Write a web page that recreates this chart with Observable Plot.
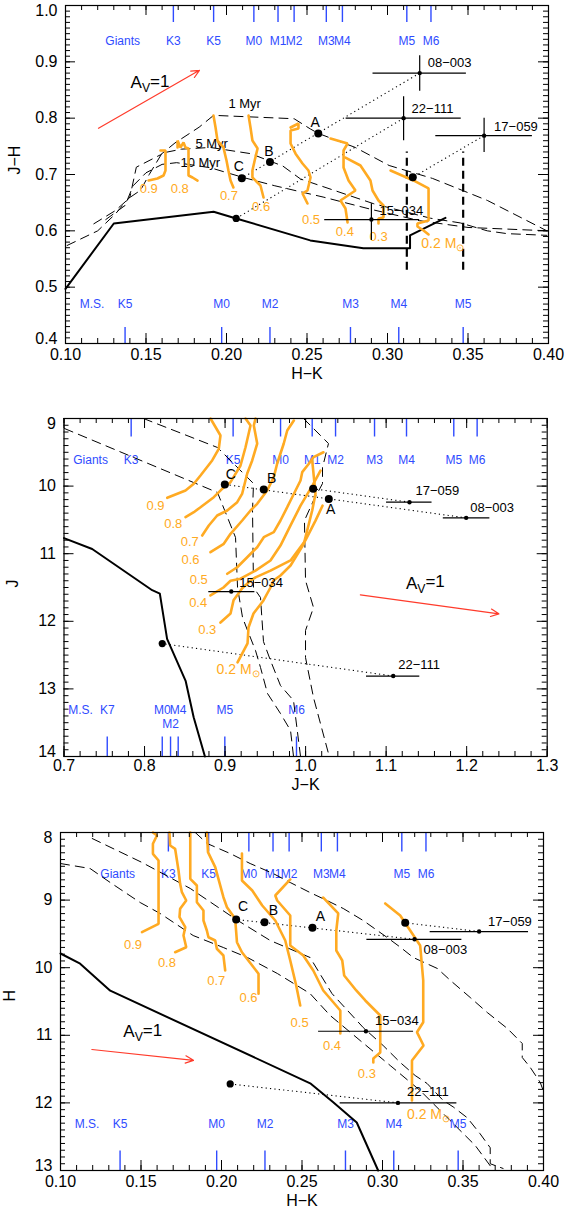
<!DOCTYPE html>
<html><head><meta charset="utf-8">
<script src="https://cdn.jsdelivr.net/npm/d3@7"></script>
<script src="https://cdn.jsdelivr.net/npm/@observablehq/plot@0.6"></script>
<style>
html,body{margin:0;padding:0;background:#fff;}
body{width:565px;height:1214px;position:relative;overflow:hidden;font-family:"Liberation Sans",Arial,Helvetica,sans-serif;}
.pan{position:absolute;left:0;}
</style></head><body>
<div id="p1" class="pan" style="top:0px"></div>
<div id="p2" class="pan" style="top:400px"></div>
<div id="p3" class="pan" style="top:800px"></div>
<script>
// ---------------- DATA ----------------
const hkGiantSpT = ["K3","K5","M0","M1","M2","M3","M4","M5","M6"];
const hkGiantX   = [0.167,0.192,0.217,0.232,0.242,0.262,0.272,0.312,0.327];
const hkDwarfSpT = ["K5","M0","M2","M3","M4","M5"];
const hkDwarfX   = [0.137,0.197,0.227,0.277,0.307,0.347];
const hkGiantsLabelX = 0.1355, hkMSLabelX = 0.1165;
const jkGiantSpT = ["K3","K5","M0","M1","M2","M3","M4","M5","M6"];
const jkGiantX   = [0.7834,0.910,0.9689,1.0082,1.0372,1.0856,1.1253,1.184,1.213];
const jkDwarfSpT = ["K7","M0","M2","M4","M5","M6"];
const jkDwarfX   = [0.7537,0.822,0.8323,0.8418,0.8997,0.9887];
const jkGiantsLabelX = 0.733, jkMSLabelX = 0.7205;

const p1XTicks = [0.10,0.15,0.20,0.25,0.30,0.35,0.40];
const p1YTicks = [0.4,0.5,0.6,0.7,0.8,0.9,1.0];
const p2XTicks = [0.7,0.8,0.9,1.0,1.1,1.2,1.3];
const p2YTicks = [9,10,11,12,13,14];
const p3XTicks = [0.10,0.15,0.20,0.25,0.30,0.35,0.40];
const p3YTicks = [8,9,10,11,12,13];

// ---- Panel 1: J-H vs H-K ----
const p1MS = [[0.100,0.497],[0.130,0.613],[0.192,0.634],[0.206,0.622],[0.252,0.583],[0.285,0.569],[0.314,0.569],[0.314,0.592],[0.336,0.623]];
const p1Iso1 = [[0.101,0.574],[0.120,0.600],[0.131,0.630],[0.140,0.660],[0.144,0.713],[0.159,0.735],[0.168,0.756],[0.183,0.784],[0.192,0.805],[0.242,0.799],[0.252,0.781],[0.257,0.773],[0.280,0.748],[0.301,0.716],[0.328,0.693],[0.362,0.654],[0.399,0.600]];
const p1Iso5 = [[0.1176,0.6125],[0.131,0.636],[0.1404,0.660],[0.1466,0.672],[0.152,0.700],[0.160,0.738],[0.172,0.745],[0.190,0.748],[0.215,0.737],[0.235,0.715],[0.246,0.692],[0.2915,0.648],[0.3267,0.6224],[0.3453,0.614],[0.362,0.600],[0.3743,0.595],[0.399,0.592]];
const p1Iso10 = [[0.125,0.620],[0.137,0.645],[0.142,0.680],[0.150,0.703],[0.160,0.718],[0.169,0.721],[0.190,0.712],[0.210,0.695],[0.230,0.680],[0.260,0.660],[0.290,0.638],[0.320,0.618],[0.350,0.606],[0.400,0.600]];
const p1IsoLabels = [["1 Myr",0.2012,0.826],["5 Myr",0.1807,0.755],["10 Myr",0.1714,0.7213]];
const p1Tracks = [
  ["0.9",[[0.159,0.7426],[0.1621,0.7426],[0.1621,0.7071],[0.1609,0.6982],[0.1571,0.6929],[0.1516,0.6893]]],
  ["0.8",[[0.1696,0.748],[0.1696,0.7603],[0.1714,0.748],[0.1733,0.757],[0.1745,0.748],[0.1764,0.746],[0.1764,0.72],[0.1764,0.6982],[0.1789,0.6947],[0.182,0.6893]]],
  ["0.7",[[0.1919,0.8047],[0.1932,0.7834],[0.1944,0.7603],[0.1981,0.748],[0.2,0.7248],[0.2012,0.7071],[0.2025,0.6893],[0.2043,0.677]]],
  ["0.6",[[0.2137,0.8047],[0.2149,0.7834],[0.2161,0.7603],[0.2193,0.7462],[0.2175,0.7248],[0.2161,0.7071],[0.2161,0.6947],[0.2211,0.6805],[0.223,0.6592]]],
  ["0.5",[[0.2398,0.7834],[0.2447,0.7905],[0.2447,0.7816],[0.2398,0.778],[0.2398,0.755],[0.2429,0.737],[0.2472,0.7195],[0.2509,0.7071],[0.2522,0.6947],[0.2503,0.6716],[0.2472,0.6663],[0.2503,0.6485]]],
  ["0.4",[[0.2646,0.7639],[0.2752,0.755],[0.2727,0.7426],[0.2727,0.7124],[0.2758,0.6893],[0.2801,0.6716],[0.2708,0.6538],[0.2739,0.6396],[0.2752,0.6147]]],
  ["0.3",[[0.2739,0.73],[0.2832,0.716],[0.2894,0.6893],[0.2907,0.6716],[0.2944,0.6538],[0.2975,0.645],[0.2975,0.6236],[0.2944,0.6219],[0.2944,0.613]]],
  ["0.2",[[0.3019,0.7071],[0.3161,0.6894],[0.3255,0.6752],[0.3255,0.6183],[0.3186,0.613],[0.3186,0.6077],[0.3224,0.6006],[0.3255,0.5935]]]
];
const p1MassLabels = [["0.9",0.1517,0.6745],["0.8",0.171,0.674],["0.7",0.2015,0.663],["0.6",0.2215,0.642],["0.5",0.2525,0.620],["0.4",0.2735,0.598],["0.3",0.2945,0.589]];
const p1SunLabel = ["0.2 M_⊙",0.321,0.577];
const p1Stars = [
  {id:"08−003", x:0.320, y:0.880, xlo:0.291, xhi:0.349, ylo:0.848, yhi:0.911},
  {id:"22−111", x:0.310, y:0.800, xlo:0.2743, xhi:0.3458, ylo:0.760, yhi:0.838},
  {id:"17−059", x:0.360, y:0.769, xlo:0.330, xhi:0.390, ylo:0.739, yhi:0.800},
  {id:"15−034", x:0.290, y:0.620, xlo:0.261, xhi:0.320, ylo:0.583, yhi:0.648}
];
const p1Dots = [{id:"A",x:0.257,y:0.773},{id:"B",x:0.227,y:0.722},{id:"C",x:0.2095,y:0.6934},{id:"",x:0.3157,y:0.695}];
const p1MSDot = [{x:0.206,y:0.622}];
const p1Dered = [{x1:0.320,y1:0.880,x2:0.2095,y2:0.6934},{x1:0.310,y1:0.800,x2:0.206,y2:0.622},{x1:0.360,y1:0.769,x2:0.3157,y2:0.695}];
const p1MLimits = [{x:0.312,y1:0.53,y2:0.74},{x:0.347,y1:0.53,y2:0.74}];
const p1Av = [{x1:0.1205,y1:0.782,x2:0.1832,y2:0.885}];
const p1AvLabel = ["A_V=1",0.1404,0.863];

// ---- Panel 2: J vs J-K ----
const p2MS = [[0.70,10.77],[0.735,10.93],[0.8095,11.54],[0.819,11.59],[0.828,12.26],[0.851,12.88],[0.861,13.42],[0.875,14.0]];
const p2IsoA = [[0.9974,9.0],[1.0284,9.37],[1.021,9.725],[1.021,9.962],[1.0098,10.213],[0.9986,10.509],[0.9999,11.396],[1.0098,11.796],[0.9999,12.136],[0.9999,12.536],[1.0098,13.127],[1.0284,13.956],[1.0322,14.0]];
const p2IsoB = [[0.7987,9.0],[0.8906,9.429],[0.9353,9.962],[0.9341,10.361],[0.9353,11.5],[0.944,11.648],[0.9477,12.3],[0.9564,12.58],[0.9688,12.95],[0.985,13.172],[0.9937,14.0]];
const p2IsoC = [[0.7006,9.148],[0.8906,10.095],[0.913,10.76],[0.9155,11.5],[0.9217,11.944],[0.9279,12.136],[0.9378,12.432],[0.944,12.683],[0.9527,13.068],[0.9688,13.364],[0.9813,13.615],[0.985,14.0]];
const p2Tracks = [
  ["0.9",[[0.8819,9.0],[0.8943,9.251],[0.8922,9.448],[0.884,9.621],[0.8695,9.843],[0.8612,9.966],[0.8509,10.065],[0.8282,10.173]]],
  ["0.8",[[0.9254,9.0],[0.9316,9.104],[0.9254,9.425],[0.9192,9.695],[0.9068,9.942],[0.8964,10.04],[0.886,10.164],[0.8695,10.312],[0.8612,10.386],[0.8509,10.46]]],
  ["0.7",[[0.9378,9.0],[0.9357,9.104],[0.9399,9.37],[0.9337,9.621],[0.9275,9.814],[0.9213,10.11],[0.9151,10.238],[0.9027,10.361],[0.8902,10.435],[0.8798,10.583],[0.8716,10.731]]],
  ["0.6",[[0.9854,9.03],[0.9772,9.178],[0.9729,9.37],[0.9647,9.666],[0.9605,9.868],[0.9523,10.065],[0.9399,10.262],[0.9316,10.361],[0.9213,10.509],[0.9068,10.706],[0.8984,10.854],[0.8819,10.978]]],
  ["0.5",[[1.0222,9.499],[1.0098,9.572],[1.004,9.67],[0.9958,9.794],[0.9937,9.917],[0.9875,10.065],[0.9813,10.213],[0.9772,10.312],[0.9688,10.509],[0.9605,10.682],[0.9481,10.756],[0.9399,10.904],[0.9275,11.052],[0.9151,11.2],[0.9027,11.297]]],
  ["0.4",[[1.0185,9.77],[1.0086,9.99],[0.9937,10.29],[0.9813,10.58],[0.9688,10.88],[0.9564,11.1],[0.9378,11.25],[0.9192,11.37],[0.9068,11.4],[0.898,11.5],[0.8819,11.618]]],
  ["0.3",[[1.021,10.29],[1.0123,10.51],[0.9999,10.8],[0.9813,11.1],[0.9564,11.25],[0.9378,11.35],[0.9316,11.4],[0.9213,11.51],[0.9105,11.69],[0.9068,11.885],[0.8943,12.018]]],
  ["0.2",[[1.0082,9.621],[1.0123,10.114],[1.0082,10.361],[0.9978,10.854],[0.9813,11.175],[0.9688,11.322],[0.9601,11.396],[0.9564,11.5],[0.9477,11.692],[0.9353,11.885],[0.9291,12.092],[0.9279,12.328],[0.9155,12.609]]]
];
const p2MassLabels = [["0.9",0.8136,10.287],["0.8",0.8356,10.558],["0.7",0.8562,10.82],["0.6",0.857,11.09],["0.5",0.8674,11.38],["0.4",0.8666,11.73],["0.3",0.8778,12.13]];
const p2SunLabel = ["0.2 M_⊙",0.8894,12.72];
const p2Stars = [
  {id:"17−059", x:1.129, y:10.238, xlo:1.1005, xhi:1.157},
  {id:"08−003", x:1.1994, y:10.47, xlo:1.171, xhi:1.2288},
  {id:"15−034", x:0.9077, y:11.56, xlo:0.8798, xhi:0.937},
  {id:"22−111", x:1.1088, y:12.81, xlo:1.0756, xhi:1.1418}
];
const p2Dots = [{id:"C",x:0.8997,y:9.976},{id:"B",x:0.948,y:10.05},{id:"A",x:1.0288,y:10.19},{id:"",x:1.0094,y:10.04}];
const p2MSDot = [{x:0.822,y:12.33}];
const p2Dered = [{x1:1.1994,y1:10.47,x2:0.8997,y2:9.976},{x1:1.129,y1:10.238,x2:1.0094,y2:10.04},{x1:1.1088,y1:12.81,x2:0.822,y2:12.33}];
const p2Av = [{x1:1.068,y1:11.61,x2:1.24,y2:11.89}];
const p2AvLabel = ["A_V=1",1.1487,11.44];

// ---- Panel 3: H vs H-K ----
const p3MS = [[0.1,9.79],[0.1122,9.94],[0.1309,10.34],[0.2551,11.71],[0.2694,11.99],[0.284,12.29],[0.2973,13.0]];
const p3Iso1 = [[0.1837,8.0],[0.1911,8.163],[0.2054,8.311],[0.2178,8.459],[0.2321,8.607],[0.2427,8.74],[0.255,8.888],[0.2655,9.006],[0.2756,9.124],[0.288,9.302],[0.3029,9.553],[0.3113,9.701],[0.3191,9.849],[0.3341,10.012],[0.3422,10.189],[0.3545,10.441],[0.3651,10.663],[0.3776,10.9],[0.3868,11.121],[0.3868,11.328],[0.3918,11.476],[0.398,11.698],[0.3998,11.817]];
const p3Iso2 = [[0.1197,8.089],[0.1507,8.444],[0.1806,8.828],[0.2091,9.287],[0.2303,9.598],[0.255,9.849],[0.2686,10.382],[0.288,10.885],[0.3004,11.151],[0.311,11.402],[0.3203,11.595],[0.3277,11.713],[0.3377,11.964],[0.3439,12.059],[0.3526,12.219],[0.3606,12.456],[0.3669,12.663],[0.3669,12.9],[0.3749,12.97]];
const p3Iso3 = [[0.1,8.459],[0.1184,8.533],[0.1309,8.74],[0.1495,9.036],[0.1619,9.198],[0.1824,9.524],[0.2011,9.701],[0.2161,9.849],[0.2347,10.086],[0.255,10.382],[0.2675,10.707],[0.2861,11.077],[0.3048,11.447],[0.3234,11.817],[0.342,12.26],[0.3576,12.63],[0.3669,12.93]];
const p3Tracks = [
  ["0.9",[[0.1574,8.0],[0.1599,8.044],[0.1574,8.167],[0.1574,8.315],[0.1609,8.414],[0.1609,9.351],[0.1506,9.475]]],
  ["0.8",[[0.1677,8.0],[0.1681,8.192],[0.1712,8.241],[0.1733,8.562],[0.1743,8.759],[0.1754,8.883],[0.1781,9.006],[0.1743,9.129],[0.1739,9.253],[0.1775,9.401],[0.1764,9.524],[0.1781,9.697],[0.1712,9.771]]],
  ["0.7",[[0.1806,8.0],[0.1806,8.685],[0.1847,8.784],[0.1847,9.031],[0.1888,9.154],[0.1888,9.302],[0.1909,9.45],[0.1919,9.549],[0.1961,9.598],[0.1971,9.72],[0.2012,9.82],[0.2023,10.041]]],
  ["0.6",[[0.1909,8.0],[0.1916,8.291],[0.1961,8.513],[0.2012,8.957],[0.2034,9.105],[0.2085,9.277],[0.2096,9.623],[0.2127,9.771],[0.2199,9.993],[0.223,10.09],[0.223,10.386]]],
  ["0.5",[[0.2127,8.311],[0.2127,8.71],[0.2191,8.858],[0.2253,9.08],[0.2334,9.302],[0.2396,9.598],[0.2427,9.893],[0.2464,10.263],[0.2489,10.559]]],
  ["0.4",[[0.2427,8.695],[0.2334,8.932],[0.2346,9.006],[0.2427,9.228],[0.2427,9.672],[0.2508,9.82],[0.257,10.041],[0.2632,10.337],[0.2738,10.633],[0.2738,10.973]]],
  ["0.3",[[0.2632,8.962],[0.2725,9.198],[0.2713,9.45],[0.2713,9.746],[0.275,9.893],[0.2762,10.115],[0.2837,10.337],[0.2893,10.485],[0.2986,10.707],[0.2986,11.254],[0.2943,11.343],[0.2943,11.402]]],
  ["0.2",[[0.3017,9.05],[0.311,9.228],[0.3172,9.45],[0.3234,9.672],[0.3253,10.189],[0.3253,10.806],[0.3214,10.954],[0.3255,11.151],[0.3183,11.373],[0.3183,11.964]]]
];
const p3MassLabels = [["0.9",0.145,9.657],["0.8",0.1661,9.93],["0.7",0.1967,10.2],["0.6",0.2168,10.45],["0.5",0.2485,10.81],["0.4",0.2686,11.15],["0.3",0.2903,11.57]];
const p3SunLabel = ["0.2 M_⊙",0.3152,12.17];
const p3Stars = [
  {id:"17−059", x:0.36, y:9.465, xlo:0.3296, xhi:0.3907},
  {id:"08−003", x:0.3199, y:9.58, xlo:0.2903, xhi:0.3493},
  {id:"15−034", x:0.2897, y:10.94, xlo:0.2603, xhi:0.3193},
  {id:"22−111", x:0.3096, y:12.0, xlo:0.2737, xhi:0.3462}
];
const p3Dots = [{id:"A",x:0.2565,y:9.41},{id:"B",x:0.2267,y:9.327},{id:"C",x:0.2091,y:9.287},{id:"",x:0.3141,y:9.336}];
const p3MSDot = [{x:0.2054,y:11.72}];
const p3Dered = [{x1:0.3199,y1:9.58,x2:0.2091,y2:9.287},{x1:0.36,y1:9.465,x2:0.3141,y2:9.336},{x1:0.3096,y1:12.0,x2:0.2054,y2:11.72}];
const p3Av = [{x1:0.1195,y1:11.21,x2:0.1826,y2:11.37}];
const p3AvLabel = ["A_V=1",0.139,10.95];

// ---------------- STYLE / LAYOUT ----------------
const FONT = "'Liberation Sans', Arial, Helvetica, sans-serif";
const ORANGE = "#ffaa22", BLUE = "#2f4bff", RED = "#ff3b2b";
const DASH = "9,6";

function flatten(series) {
  return series.flatMap(([name, pts]) => pts.map(p => ({name, x: p[0], y: p[1]})));
}
function isoData(list) {
  return list.flatMap((pts, k) => pts.map(p => ({k, x: p[0], y: p[1]})));
}

function specMarks(topNames, topX, botNames, botX, giantsX, msX, L) {
  const top = topNames.map((s, i) => ({s, x: topX[i]}));
  const bot = botNames.map((s, i) => ({s, x: botX[i]}));
  const low = L.lowRow || [];
  const botRow1 = bot.filter(d => !low.includes(d.s));
  const botRow2 = bot.filter(d => low.includes(d.s));
  return [
    Plot.tickX(top, {x: "x", stroke: BLUE, strokeWidth: 1.4, insetBottom: L.ih - L.topTick}),
    Plot.tickX(bot, {x: "x", stroke: BLUE, strokeWidth: 1.4, insetTop: L.ih - L.botTick}),
    Plot.text(top, {x: "x", text: "s", frameAnchor: "top", dy: L.topLab, fill: BLUE, fontSize: 12}),
    Plot.text([{s: "Giants", x: giantsX}], {x: "x", text: "s", frameAnchor: "top", dy: L.topLab, fill: BLUE, fontSize: 12}),
    Plot.text(botRow1, {x: "x", text: "s", frameAnchor: "bottom", dy: -L.botLab, fill: BLUE, fontSize: 12}),
    Plot.text(botRow2, {x: "x", text: "s", frameAnchor: "bottom", dy: -L.botLab2, fill: BLUE, fontSize: 12}),
    Plot.text([{s: "M.S.", x: msX}], {x: "x", text: "s", frameAnchor: "bottom", dy: -L.botLab, fill: BLUE, fontSize: 12})
  ];
}

function commonData(P, lay) {
  const m = [];
  m.push(Plot.line(isoData(P.isos), {x: "x", y: "y", z: "k", stroke: "black", strokeWidth: 1, strokeDasharray: DASH}));
  m.push(Plot.line(P.ms, {x: d => d[0], y: d => d[1], stroke: "black", strokeWidth: 2}));
  m.push(Plot.link(P.dered, {x1: "x1", y1: "y1", x2: "x2", y2: "y2", stroke: "black", strokeWidth: 1.1, strokeDasharray: "1.2,3.2"}));
  m.push(Plot.line(flatten(P.tracks), {x: "x", y: "y", z: "name", stroke: ORANGE, strokeWidth: 2.6, strokeLinejoin: "miter"}));
  m.push(Plot.text(P.massLabels, {x: d => d[1], y: d => d[2], text: d => d[0], fill: ORANGE, fontSize: 13}));
  m.push(Plot.text([P.sunLabel], {x: d => d[1], y: d => d[2], text: d => d[0], fill: ORANGE, fontSize: 14, textAnchor: "start"}));
  m.push(Plot.ruleY(P.stars, {y: "y", x1: "xlo", x2: "xhi", stroke: "black", strokeWidth: 1.2}));
  if (P.stars[0].ylo != null) m.push(Plot.ruleX(P.stars, {x: "x", y1: "ylo", y2: "yhi", stroke: "black", strokeWidth: 1.2}));
  m.push(Plot.dot(P.stars, {x: "x", y: "y", r: 2.2, fill: "black"}));
  for (const s of P.stars) {
    const o = lay.star[s.id];
    m.push(Plot.text([s], {x: "x", y: "y", text: "id", dx: o[0], dy: o[1], textAnchor: "start", fontSize: 13}));
  }
  m.push(Plot.dot(P.dots, {x: "x", y: "y", r: 4, fill: "black"}));
  m.push(Plot.dot(P.msDot, {x: "x", y: "y", r: 3.6, fill: "black"}));
  for (const d of P.dots.filter(d => d.id)) {
    const o = lay.dot[d.id];
    m.push(Plot.text([d], {x: "x", y: "y", text: "id", dx: o[0], dy: o[1], fontSize: 14}));
  }
  m.push(Plot.arrow(P.av, {x1: "x1", y1: "y1", x2: "x2", y2: "y2", stroke: RED, strokeWidth: 1.2, headLength: 11, headAngle: 50}));
  m.push(Plot.text([P.avLabel], {x: d => d[1], y: d => d[2], text: d => d[0], fontSize: 17, textAnchor: lay.avAnchor}));
  return m;
}

function buildPanel(cfg) {
  const {height, mt, mb, ml, mr, xDomain, yDomain, yReverse, xTicks, yTicks, xMinor, yMinor, xFmt, yFmt, xLabel, yLabel, marks, xTickDy, xLabDy} = cfg;
  const width = 565;
  const iw = width - ml - mr, ih = height - mt - mb;
  const yTop = yReverse ? d3.min(yTicks) : d3.max(yTicks);
  const yBot = yReverse ? d3.max(yTicks) : d3.min(yTicks);
  const yMid = yTicks.filter(d => d !== yTop && d !== yBot);
  const yt = (data, dy) => Plot.text(data, {y: d => d, text: d => yFmt(d), frameAnchor: "left", dx: -8, dy, textAnchor: "end", fontSize: 16});
  const svg = Plot.plot({
    width, height, marginTop: mt, marginBottom: mb, marginLeft: ml, marginRight: mr,
    x: {domain: xDomain, axis: null},
    y: {domain: yDomain, reverse: !!yReverse, axis: null},
    style: {fontFamily: FONT, background: "white", color: "black", fontSize: "16px", overflow: "visible"},
    marks: [
      ...marks(ih, iw),
      Plot.tickX(xMinor, {x: d => d, insetTop: ih - 5, strokeWidth: 1}),
      Plot.tickX(xMinor, {x: d => d, insetBottom: ih - 5, strokeWidth: 1}),
      Plot.tickX(xTicks, {x: d => d, insetTop: ih - 10, strokeWidth: 1}),
      Plot.tickX(xTicks, {x: d => d, insetBottom: ih - 10, strokeWidth: 1}),
      Plot.tickY(yMinor, {y: d => d, insetRight: iw - 5, strokeWidth: 1}),
      Plot.tickY(yMinor, {y: d => d, insetLeft: iw - 5, strokeWidth: 1}),
      Plot.tickY(yTicks, {y: d => d, insetRight: iw - 10, strokeWidth: 1}),
      Plot.tickY(yTicks, {y: d => d, insetLeft: iw - 10, strokeWidth: 1}),
      Plot.frame({stroke: "black", strokeWidth: 1.2}),
      Plot.text(xTicks, {x: d => d, text: d => xFmt(d), frameAnchor: "bottom", dy: xTickDy, fontSize: 16}),
      yt(yMid, 0), yt([yTop], 5), yt([yBot], -5),
      Plot.text([xLabel], {frameAnchor: "bottom", dy: xLabDy, fontSize: 16, text: d => d}),
      Plot.text([yLabel], {frameAnchor: "left", dx: -51, rotate: -90, fontSize: 16, text: d => d})
    ]
  });
  d3.select(svg).selectAll("text").each(function() {
    const t = this.textContent;
    const k = t.indexOf("_");
    if (k < 0 || this.querySelector("tspan")) return;
    const before = t.slice(0, k), rest = t.slice(k + 1);
    const sub = rest[0], after = rest.slice(1);
    const el = d3.select(this);
    el.text(before);
    el.append("tspan").attr("dy", "0.3em").attr("font-size", "0.72em").text(sub);
    if (after) el.append("tspan").attr("dy", "-0.3em").text(after);
  });
  return svg;
}

const rng = (a, b, s) => d3.range(Math.round((b - a) / s) + 1).map(i => +(a + i * s).toFixed(4));

document.getElementById("p1").appendChild(buildPanel({
  height: 400, mt: 5, mb: 57, ml: 65, mr: 17,
  xDomain: [0.10, 0.40], yDomain: [0.4, 1.0],
  xTicks: p1XTicks, yTicks: p1YTicks, xMinor: rng(0.10, 0.40, 0.01), yMinor: rng(0.4, 1.0, 0.01),
  xFmt: d3.format(".2f"), yFmt: d3.format(".1f"), xLabel: "H−K", yLabel: "J−H", xTickDy: 16.5, xLabDy: 35,
  marks: (ih) => [
    ...specMarks(hkGiantSpT, hkGiantX, hkDwarfSpT, hkDwarfX, hkGiantsLabelX, hkMSLabelX, {ih, topTick: 17, botTick: 16, topLab: 31, botLab: 36, botLab2: 24}),
    Plot.ruleX(p1MLimits, {x: "x", y1: "y1", y2: "y2", stroke: "black", strokeWidth: 2.2, strokeDasharray: "8,5"}),
    Plot.text(p1IsoLabels, {x: d => d[1], y: d => d[2], text: d => d[0], textAnchor: "start", fontSize: 13}),
    ...commonData({isos: [p1Iso1, p1Iso5, p1Iso10], ms: p1MS, dered: p1Dered, tracks: p1Tracks, massLabels: p1MassLabels, sunLabel: p1SunLabel, stars: p1Stars, dots: p1Dots, msDot: p1MSDot, av: p1Av, avLabel: p1AvLabel},
      {star: {"08−003": [8, -10], "22−111": [8, -9], "17−059": [10, -9], "15−034": [8, -9]}, dot: {A: [-3, -11], B: [-1, -11], C: [-3, -12]}, avAnchor: "start"})
  ]
}));

document.getElementById("p2").appendChild(buildPanel({
  height: 400, mt: 18, mb: 44, ml: 63.5, mr: 18.3,
  xDomain: [0.7, 1.3], yDomain: [9, 14], yReverse: true,
  xTicks: p2XTicks, yTicks: p2YTicks, xMinor: rng(0.7, 1.3, 0.02), yMinor: rng(9, 14, 0.1),
  xFmt: d3.format(".1f"), yFmt: d3.format("d"), xLabel: "J−K", yLabel: "J", xTickDy: 14, xLabDy: 33,
  marks: (ih) => [
    ...specMarks(jkGiantSpT, jkGiantX, jkDwarfSpT, jkDwarfX, jkGiantsLabelX, jkMSLabelX, {ih, topTick: 18.5, botTick: 19.5, topLab: 37, botLab: 43, botLab2: 29, lowRow: ["M2"]}),
    ...commonData({isos: [p2IsoA, p2IsoB, p2IsoC], ms: p2MS, dered: p2Dered, tracks: p2Tracks, massLabels: p2MassLabels, sunLabel: p2SunLabel, stars: p2Stars, dots: p2Dots, msDot: p2MSDot, av: p2Av, avLabel: p2AvLabel},
      {star: {"17−059": [6, -11], "08−003": [4, -10], "15−034": [8, -9], "22−111": [5, -11]}, dot: {A: [2, 11], B: [8, -11], C: [6, -10]}, avAnchor: "middle"})
  ]
}));

document.getElementById("p3").appendChild(buildPanel({
  height: 414, mt: 32, mb: 44, ml: 60, mr: 22,
  xDomain: [0.10, 0.40], yDomain: [8, 13], yReverse: true,
  xTicks: p3XTicks, yTicks: p3YTicks, xMinor: rng(0.10, 0.40, 0.01), yMinor: rng(8, 13, 0.1),
  xFmt: d3.format(".2f"), yFmt: d3.format("d"), xLabel: "H−K", yLabel: "H", xTickDy: 16.5, xLabDy: 35,
  marks: (ih) => [
    ...specMarks(hkGiantSpT, hkGiantX, hkDwarfSpT, hkDwarfX, hkGiantsLabelX, hkMSLabelX, {ih, topTick: 19.5, botTick: 19.5, topLab: 37, botLab: 43, botLab2: 30}),
    ...commonData({isos: [p3Iso1, p3Iso2, p3Iso3], ms: p3MS, dered: p3Dered, tracks: p3Tracks, massLabels: p3MassLabels, sunLabel: p3SunLabel, stars: p3Stars, dots: p3Dots, msDot: p3MSDot, av: p3Av, avLabel: p3AvLabel},
      {star: {"17−059": [9, -10], "08−003": [9, 11], "15−034": [9, -10], "22−111": [9, -11]}, dot: {A: [8, -11], B: [9, -12], C: [7, -13]}, avAnchor: "start"})
  ]
}));
</script>
</body></html>
